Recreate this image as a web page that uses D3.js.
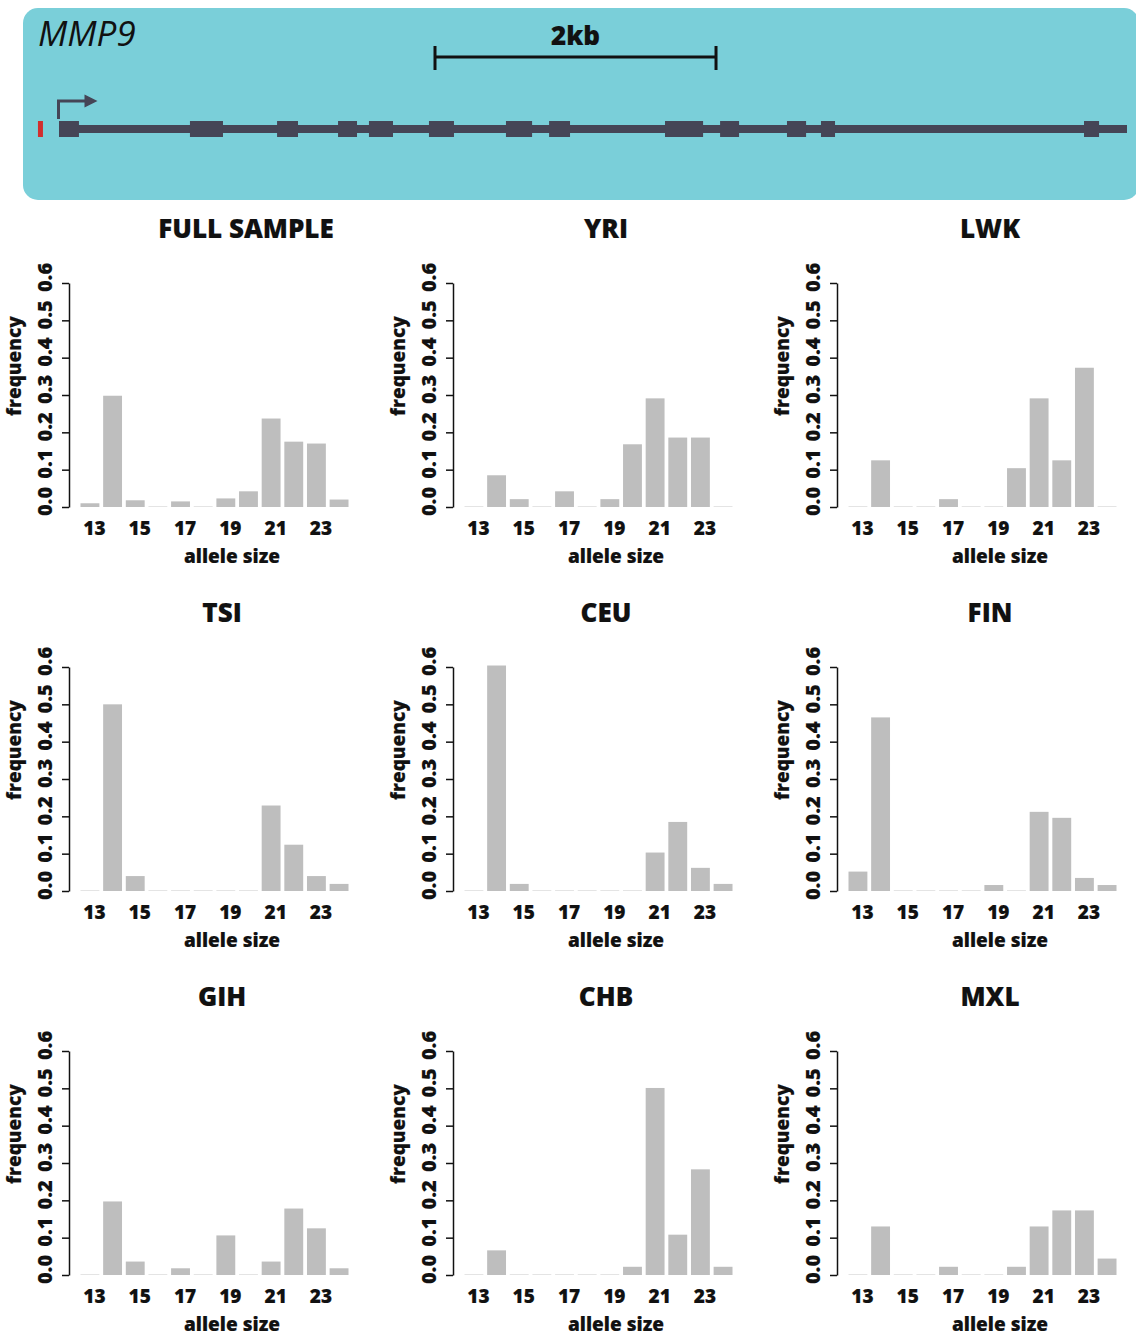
<!DOCTYPE html>
<html>
<head>
<meta charset="utf-8">
<script src="https://cdn.jsdelivr.net/npm/d3@7"></script>
<style>
  body { margin: 0; background: #fff; }
  svg { display: block; }
  text { font-family: "Open Sans", "Noto Sans", sans-serif; }
  .heavy { font-weight: 800; stroke: #111; stroke-width: 0.15px; }
</style>
</head>
<body>
<script>
// ---- data -------------------------------------------------------------
const alleleSizes = [13, 14, 15, 16, 17, 18, 19, 20, 21, 22, 23, 24];
const xTickSizes = [13, 15, 17, 19, 21, 23];
const yTickValues = [0, 0.1, 0.2, 0.3, 0.4, 0.5, 0.6];

const populations = ["FULL SAMPLE", "YRI", "LWK", "TSI", "CEU", "FIN", "GIH", "CHB", "MXL"];

// allele frequencies per population, one value per allele size (13..24)
const freqFull = [0.010, 0.298, 0.018, 0, 0.015, 0, 0.023, 0.042, 0.237, 0.175, 0.170, 0.020];
const freqYRI  = [0, 0.085, 0.021, 0, 0.042, 0, 0.021, 0.168, 0.291, 0.186, 0.186, 0];
const freqLWK  = [0, 0.125, 0, 0, 0.021, 0, 0, 0.104, 0.291, 0.125, 0.373, 0];
const freqTSI  = [0, 0.500, 0.040, 0, 0, 0, 0, 0, 0.229, 0.124, 0.040, 0.019];
const freqCEU  = [0, 0.604, 0.019, 0, 0, 0, 0, 0, 0.103, 0.185, 0.062, 0.019];
const freqFIN  = [0.052, 0.465, 0, 0, 0, 0, 0.016, 0, 0.212, 0.196, 0.035, 0.016];
const freqGIH  = [0, 0.197, 0.036, 0, 0.018, 0, 0.106, 0, 0.036, 0.178, 0.125, 0.018];
const freqCHB  = [0, 0.066, 0, 0, 0, 0, 0, 0.022, 0.501, 0.108, 0.283, 0.022];
const freqMXL  = [0, 0.130, 0, 0, 0.022, 0, 0, 0.022, 0.130, 0.173, 0.173, 0.044];

const popFreqs = [freqFull, freqYRI, freqLWK, freqTSI, freqCEU, freqFIN, freqGIH, freqCHB, freqMXL];

// MMP9 gene model, positions in bp relative to the transcription start
const geneName = "MMP9";
const geneLength = 7601;
const exonStarts = [0, 932, 1552, 1986, 2206, 2633, 3181, 3488, 4313, 4705, 5181, 5423, 7295];
const exonEnds   = [142, 1167, 1701, 2121, 2377, 2811, 3367, 3637, 4584, 4840, 5317, 5523, 7402];
const repeatPos = -132;          // upstream microsatellite
const scaleBarStart = 2676;
const scaleBarLength = 2000;
const scaleBarLabel = "2kb";

// ---- canvas -----------------------------------------------------------
const W = 1136, H = 1335;
const svg = d3.select("body").append("svg").attr("width", W).attr("height", H);

// ---- gene header ------------------------------------------------------
const teal = "#7acfd9", geneColor = "#454556";
svg.append("rect").attr("x", 23).attr("y", 8).attr("width", 1116).attr("height", 192)
  .attr("rx", 15).attr("fill", teal);

const gx = d3.scaleLinear().domain([0, geneLength]).range([59, 1127]);
const geneY = 129;

svg.append("text").attr("x", 38).attr("y", 46)
  .attr("font-size", 35).attr("font-style", "italic").attr("fill", "#111")
  .text(geneName);

// scale bar
const sb = svg.append("g").attr("stroke", "#111").attr("stroke-width", 3);
sb.append("line").attr("x1", gx(scaleBarStart)).attr("x2", gx(scaleBarStart + scaleBarLength))
  .attr("y1", 57).attr("y2", 57);
[scaleBarStart, scaleBarStart + scaleBarLength].forEach(p =>
  sb.append("line").attr("x1", gx(p)).attr("x2", gx(p)).attr("y1", 46).attr("y2", 70));
svg.append("text").attr("class", "heavy")
  .attr("x", gx(scaleBarStart + scaleBarLength / 2)).attr("y", 45)
  .attr("text-anchor", "middle").attr("font-size", 26).attr("fill", "#111")
  .text(scaleBarLabel);

// intron line
svg.append("line").attr("x1", gx(0)).attr("x2", gx(geneLength))
  .attr("y1", geneY).attr("y2", geneY).attr("stroke", geneColor).attr("stroke-width", 8);
// exons
svg.append("g").selectAll("rect").data(d3.zip(exonStarts, exonEnds)).join("rect")
  .attr("x", d => gx(d[0])).attr("width", d => gx(d[1]) - gx(d[0]))
  .attr("y", geneY - 8).attr("height", 16).attr("fill", geneColor);
// repeat marker
svg.append("rect").attr("x", gx(repeatPos) - 2.5).attr("width", 5)
  .attr("y", geneY - 8).attr("height", 16).attr("fill", "#d12e2e");
// TSS arrow
const tx = gx(0) - 0.5;
svg.append("path")
  .attr("d", `M${tx},${geneY - 10} V101 H${tx + 28}`)
  .attr("fill", "none").attr("stroke", geneColor).attr("stroke-width", 3);
svg.append("path")
  .attr("d", `M${tx + 39},101 L${tx + 26},94.5 L${tx + 26},107.5 Z`)
  .attr("fill", geneColor);

// ---- histogram panels -------------------------------------------------
const plotH = 224;
const x = d3.scaleBand().domain(alleleSizes).range([11.5, 279.5])
  .paddingInner(0.2 / 1.2).paddingOuter(0);
const y = d3.scaleLinear().domain([0, 0.6]).range([plotH, 0]);

populations.forEach((pop, i) => {
  const col = i % 3, row = Math.floor(i / 3);
  const ox = 69 + col * 384;
  const baseY = 507 + row * 384;
  const g = svg.append("g").attr("transform", `translate(${ox},${baseY - plotH})`);
  const vals = popFreqs[i];

  // title
  g.append("text").attr("class", "heavy")
    .attr("x", pop === "FULL SAMPLE" ? 177 : 153).attr("y", plotH - 269)
    .attr("text-anchor", "middle").attr("font-size", 26).attr("fill", "#111")
    .text(pop);

  // bars
  const data = alleleSizes.map((s, k) => ({ size: s, freq: vals[k] }));
  g.append("g").selectAll("rect").data(data.filter(d => d.freq > 0)).join("rect")
    .attr("x", d => x(d.size)).attr("width", x.bandwidth())
    .attr("y", d => y(d.freq)).attr("height", d => y(0) - y(d.freq))
    .attr("fill", "#bebebe");
  g.append("g").selectAll("line").data(data.filter(d => d.freq === 0)).join("line")
    .attr("x1", d => x(d.size)).attr("x2", d => x(d.size) + x.bandwidth())
    .attr("y1", y(0) - 0.5).attr("y2", y(0) - 0.5)
    .attr("stroke", "#e4e4e4").attr("stroke-width", 1);

  // y axis
  const ya = g.append("g")
    .call(d3.axisLeft(y).tickValues(yTickValues).tickSize(7).tickSizeOuter(0)
      .tickFormat(d3.format(".1f")));
  ya.attr("font-family", null).attr("font-size", null);
  ya.select(".domain").attr("stroke", "#111").attr("stroke-width", 1.5);
  ya.selectAll(".tick line").attr("stroke", "#111").attr("stroke-width", 1.5);
  ya.selectAll(".tick text")
    .attr("class", "heavy")
    .attr("x", 6).attr("dy", null).attr("text-anchor", "middle")
    .attr("transform", "translate(-17,0) rotate(-90)")
    .attr("font-size", 20).attr("fill", "#111");

  // x tick labels
  const xa = g.append("g").attr("transform", `translate(0,${plotH})`)
    .call(d3.axisBottom(x).tickValues(xTickSizes).tickSize(0));
  xa.attr("font-family", null).attr("font-size", null);
  xa.select(".domain").remove();
  xa.selectAll(".tick text")
    .attr("class", "heavy")
    .attr("x", 4.5).attr("y", 28).attr("dy", null)
    .attr("font-size", 19).attr("fill", "#111");

  // axis titles
  g.append("text").attr("class", "heavy").attr("x", 163).attr("y", plotH + 56)
    .attr("text-anchor", "middle").attr("font-size", 19).attr("fill", "#111")
    .text("allele size");
  g.append("text").attr("class", "heavy")
    .attr("transform", `translate(-48,${plotH - 141}) rotate(-90)`)
    .attr("text-anchor", "middle").attr("font-size", 19).attr("fill", "#111")
    .text("frequency");
});
</script>
</body>
</html>
